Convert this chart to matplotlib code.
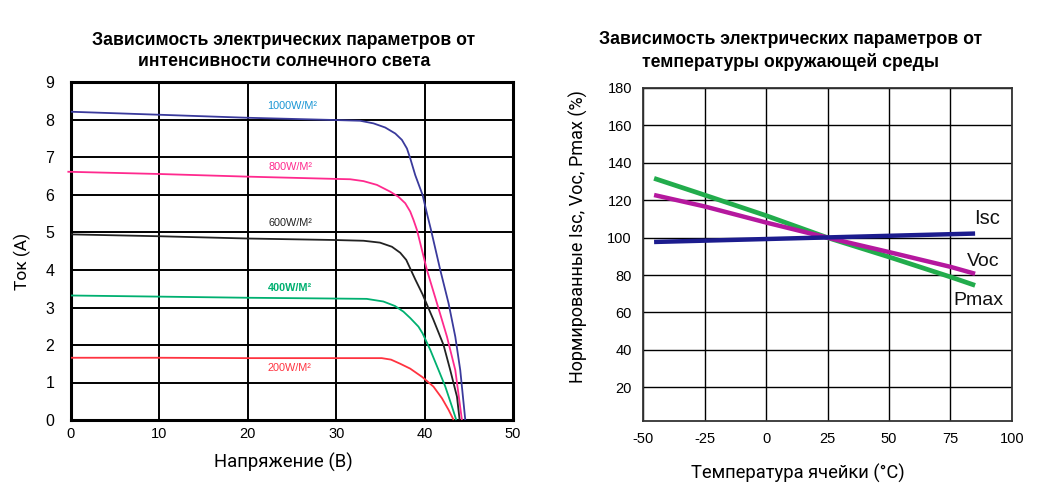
import matplotlib
matplotlib.use("Agg")
import matplotlib.pyplot as plt
from matplotlib import font_manager

plt.rcParams['font.family'] = ['Liberation Sans', 'DejaVu Sans']
plt.rcParams['axes.unicode_minus'] = False

_names = {f.name for f in font_manager.fontManager.ttflist}
NARROW = 'Liberation Sans Narrow' if 'Liberation Sans Narrow' in _names else 'Liberation Sans'
LBL_SIZE = 9.5 if NARROW == 'Liberation Sans Narrow' else 7.8

# ---------------- Left chart data (I-V curves) ----------------
v_1000 = [0, 10, 19.9, 29.77, 32.71, 34.22, 35.54, 36.68, 37.43, 38.0, 38.37, 38.94,
          39.77, 40.26, 40.72, 41.77, 42.71, 43.47, 44.03, 44.6]
i_1000 = [8.22, 8.14, 8.06, 8.0, 7.98, 7.91, 7.80, 7.64, 7.47, 7.24, 6.98, 6.53,
          6.0, 5.51, 5.07, 4.0, 3.11, 2.22, 1.33, 0.0]

v_800 = [-0.4, 10, 19.9, 29.77, 31.58, 33.09, 34.6, 36.1, 37.05, 37.81, 38.37, 38.75,
         39.13, 40.26, 41.4, 42.53, 43.47, 44.22]
i_800 = [6.62, 6.56, 6.49, 6.43, 6.42, 6.37, 6.27, 6.09, 5.95, 5.78, 5.56, 5.33,
         5.07, 4.0, 3.11, 2.22, 1.33, 0.0]

v_600 = [0, 10, 19.9, 29.77, 33.09, 34.95, 36.3, 37.24, 37.92, 38.37, 38.94, 39.77,
         41.0, 42.14, 42.9, 43.66, 43.96]
i_600 = [4.95, 4.9, 4.84, 4.8, 4.78, 4.73, 4.62, 4.46, 4.27, 4.04, 3.75, 3.35,
         2.67, 2.0, 1.33, 0.62, 0.0]

v_400 = [0, 10, 19.9, 29.3, 33.45, 35.33, 36.65, 37.6, 38.37, 39.3, 39.77, 40.64,
         41.58, 42.34, 43.09, 43.58]
i_400 = [3.32, 3.29, 3.26, 3.24, 3.23, 3.16, 3.04, 2.89, 2.72, 2.49, 2.31, 1.87,
         1.33, 0.89, 0.36, 0.0]

v_200 = [0, 10, 19.9, 29.3, 35.15, 36.2, 37.24, 38.37, 39.77, 41.0, 41.96, 42.71, 43.28]
i_200 = [1.66, 1.66, 1.65, 1.65, 1.65, 1.61, 1.5, 1.37, 1.14, 0.89, 0.58, 0.27, 0.0]

irr_labels = ["1000W/M²", "800W/M²", "600W/M²", "400W/M²", "200W/M²"]
irr_label_x = [25.0, 24.8, 24.8, 24.8, 24.7]
irr_label_y = [8.36, 6.74, 5.26, 3.51, 1.38]

# ---------------- Right chart data (temperature) ----------------
t_isc = [-45.5, 85]
isc = [97.7, 102.2]
t_curve = [-45.5, -25, 0, 25, 50, 75, 85]
voc = [122.8, 116.7, 108.1, 100, 92.3, 84.4, 80.7]
pmax = [131.7, 122.8, 111.8, 100, 89.7, 79, 74.5]

param_labels = ["Isc", "Voc", "Pmax"]
param_label_x = [89.8, 88.3, 86.2]
param_label_y = [110.2, 87.0, 66.4]

fig = plt.figure(figsize=(10.5, 5.0), dpi=100)

# ---------- Left axes ----------
ax1 = fig.add_axes([0.0676, 0.16, 0.421, 0.675])
curves = [(v_1000, i_1000, '#3a3a9c', '#1a96d4'),
          (v_800, i_800, '#ff2a8e', '#ff2a8e'),
          (v_600, i_600, '#222222', '#222222'),
          (v_400, i_400, '#00b070', '#00b070'),
          (v_200, i_200, '#ff3340', '#ff3340')]
for (v, i, c, lc), lab, lx, ly in zip(curves, irr_labels, irr_label_x, irr_label_y):
    ax1.plot(v, i, color=c, lw=1.3, zorder=3, clip_on=False,
             solid_joinstyle='round', solid_capstyle='butt')
    ax1.text(lx, ly, lab, color=lc, fontsize=LBL_SIZE, ha='center', va='center',
             family=[NARROW, 'DejaVu Sans'],
             fontweight='bold' if lab.startswith('400') else 'normal')

ax1.set_xlim(0, 50)
ax1.set_ylim(0, 9)
ax1.set_xticks(range(0, 51, 10))
ax1.set_yticks(range(0, 10))
ax1.grid(True, color='black', lw=1.4, zorder=1)
ax1.set_axisbelow(True)
ax1.tick_params(length=0, labelsize=10.5, pad=5)
ax1.tick_params(axis='y', labelsize=11.5, pad=12)
for s in ax1.spines.values():
    s.set_linewidth(2.2)
    s.set_color('black')
ax1.set_xlabel("Напряжение (В)", fontsize=13.3, family=['Roboto', 'DejaVu Sans'])
ax1.xaxis.set_label_coords(0.481, -0.097)
ax1.set_ylabel("Ток (А)", fontsize=12.5, family=['Roboto', 'DejaVu Sans'])
ax1.yaxis.set_label_coords(-0.09, 0.471)
fig.text(284 / 1050, 1 - 51 / 500,
         "Зависимость электрических параметров от\nинтенсивности солнечного света",
         fontsize=12.7, fontweight='bold', ha='center', va='center', linespacing=1.3)

# ---------- Right axes ----------
ax2 = fig.add_axes([0.6124, 0.158, 0.3514, 0.666])
ax2.plot(t_curve, pmax, color='#22ac4c', lw=3.4, zorder=3, solid_capstyle='butt')
ax2.plot(t_curve, voc, color='#b5189e', lw=3.2, zorder=4, solid_capstyle='butt')
ax2.plot(t_isc, isc, color='#1c1c8e', lw=3.2, zorder=5, solid_capstyle='butt')
for lab, lx, ly in zip(param_labels, param_label_x, param_label_y):
    ax2.text(lx, ly, lab, fontsize=14 if lab != 'Isc' else 14.5, ha='center', va='center',
             color='#111111')

ax2.set_xlim(-50, 100)
ax2.set_ylim(2, 180)
ax2.set_xticks(range(-50, 101, 25))
ax2.set_yticks(range(20, 181, 20))
ax2.grid(True, color='black', lw=1.0, zorder=1)
ax2.set_axisbelow(True)
ax2.tick_params(length=0, labelsize=10.5, pad=8)
for s in ax2.spines.values():
    s.set_linewidth(1.3)
    s.set_color('#333333')
ax2.set_xlabel("Температура ячейки (°C)", fontsize=13.2, family=['Roboto', 'DejaVu Sans'])
ax2.xaxis.set_label_coords(0.42, -0.128)
ax2.set_ylabel("Нормированные Isc, Voc, Pmax (%)", fontsize=13,
               family=['Roboto', 'DejaVu Sans'])
ax2.yaxis.set_label_coords(-0.15, 0.554)
fig.text(791 / 1050, 1 - 51 / 500,
         "Зависимость электрических параметров от\nтемпературы окружающей среды",
         fontsize=12.7, fontweight='bold', ha='center', va='center', linespacing=1.3)

fig.savefig("out.png", dpi=100)
